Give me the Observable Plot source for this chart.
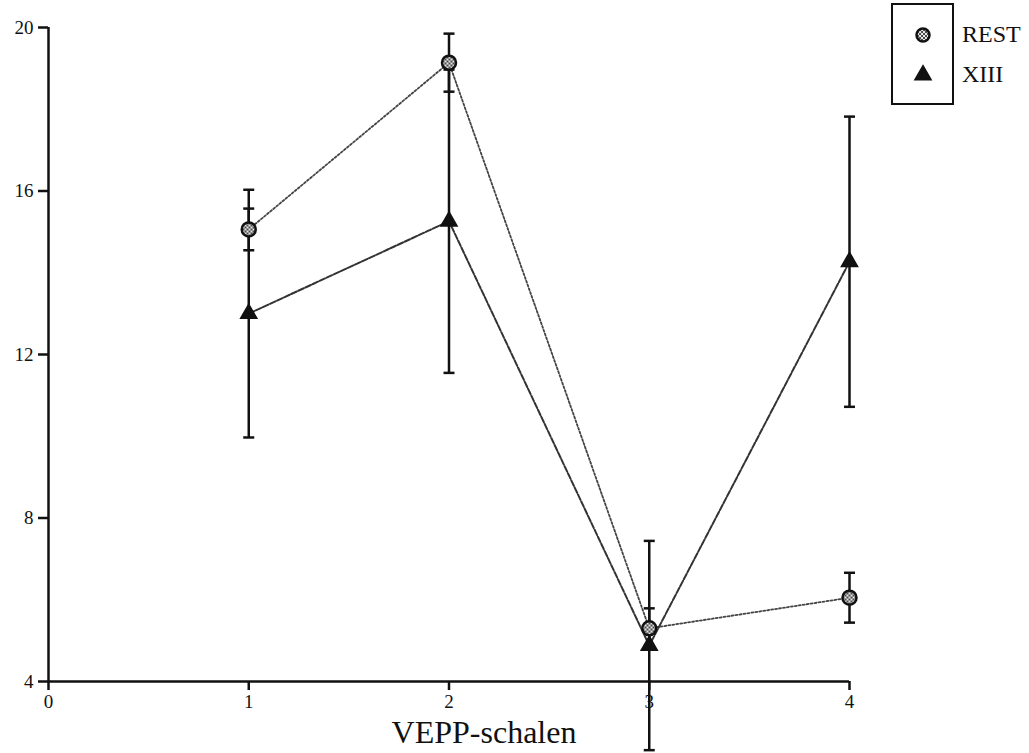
<!DOCTYPE html>
<html>
<head>
<meta charset="utf-8">
<script src="https://cdn.jsdelivr.net/npm/d3@7"></script>
<script src="https://cdn.jsdelivr.net/npm/@observablehq/plot@0.6"></script>
<style>
  body { margin: 0; background: #fff; }
  #wrap { position: relative; width: 1029px; height: 753px; overflow: hidden; background: #fff; }
  #legend { position: absolute; left: 891px; top: 3px; width: 63px; height: 102px; border: 2px solid #111; box-sizing: border-box; }
  .lg-sym { position: absolute; }
  .lg-txt { position: absolute; font-family: "Liberation Serif", serif; font-size: 24px; color: #111; line-height: 1; }
</style>
</head>
<body>
<div id="wrap"></div>
<script>
// ---- data ----
const categories = [1, 2, 3, 4];
const series = ["REST", "XIII"];
const restMean = [15.06, 19.14, 5.30, 6.05];
const restErr  = [0.51, 0.71, 0.49, 0.61];
const xiiiMean = [13.00, 15.26, 4.88, 14.27];
const xiiiErr  = [3.03, 3.71, 2.56, 3.55];
const xTicks = [0, 1, 2, 3, 4];
const yTicks = [4, 8, 12, 16, 20];
const xLabel = "VEPP-schalen";

const rest = categories.map((x, i) => ({x, mean: restMean[i], err: restErr[i], s: series[0]}));
const xiii = categories.map((x, i) => ({x, mean: xiiiMean[i], err: xiiiErr[i], s: series[1]}));

const capSymbol = {
  draw(ctx, size) {
    const w = Math.sqrt(size / Math.PI);
    ctx.moveTo(-w, 0);
    ctx.lineTo(w, 0);
  }
};

const ink = "#111";

function errMarks(data) {
  return [
    Plot.ruleX(data, {x: "x", y1: d => d.mean - d.err, y2: d => d.mean + d.err, stroke: ink, strokeWidth: 2.5}),
    Plot.dot(data, {x: "x", y: d => d.mean + d.err, symbol: capSymbol, r: 5.5, fill: "none", stroke: ink, strokeWidth: 2.5}),
    Plot.dot(data, {x: "x", y: d => d.mean - d.err, symbol: capSymbol, r: 5.5, fill: "none", stroke: ink, strokeWidth: 2.5})
  ];
}

const chart = Plot.plot({
  width: 1029,
  height: 753,
  marginLeft: 48,
  marginRight: 180,
  marginTop: 27,
  marginBottom: 72,
  x: {domain: [0, 4]},
  y: {domain: [4, 20]},
  style: {fontFamily: "Liberation Serif, serif", fontSize: "19px", color: ink, background: "white", overflow: "visible"},
  marks: [
    Plot.axisY({ticks: yTicks, tickSize: 10, tickPadding: 5, label: null, strokeWidth: 2.5, fontSize: 19, tickFormat: d3.format("d")}),
    Plot.axisX({ticks: xTicks, tickSize: 9, tickPadding: 4, label: null, strokeWidth: 2.5, fontSize: 19, tickFormat: d3.format("d")}),
    Plot.ruleY([4], {stroke: ink, strokeWidth: 2.5}),
    Plot.ruleX([0], {stroke: ink, strokeWidth: 2.5}),
    Plot.line(rest, {x: "x", y: "mean", stroke: "#444", strokeWidth: 1.8, strokeDasharray: "2,2"}),
    Plot.line(xiii, {x: "x", y: "mean", stroke: "#333", strokeWidth: 2, strokeDasharray: "6,1.8"}),
    ...errMarks(xiii),
    ...errMarks(rest),
    Plot.dot(xiii, {x: "x", y: "mean", symbol: "triangle", r: 6, fill: ink, stroke: ink, strokeWidth: 1.5}),
    Plot.dot(rest, {x: "x", y: "mean", symbol: "circle", r: 7, fill: "url(#chk)", stroke: ink, strokeWidth: 2.5}),
    Plot.text([xLabel], {text: d => d, frameAnchor: "bottom", dx: 35, dy: 61, lineAnchor: "bottom", fontSize: 32, fontFamily: "Liberation Serif, serif", fill: ink})
  ]
});

// checker pattern for the circle markers
const ns = "http://www.w3.org/2000/svg";
const defs = document.createElementNS(ns, "defs");
defs.innerHTML = '<pattern id="chk" width="4" height="4" patternUnits="userSpaceOnUse">' +
  '<rect width="4" height="4" fill="#4a4a4a"/><rect width="2" height="2" fill="#e6e6e6"/>' +
  '<rect x="2" y="2" width="2" height="2" fill="#e6e6e6"/></pattern>';
chart.insertBefore(defs, chart.firstChild);

const wrap = document.getElementById("wrap");
wrap.appendChild(chart);

// legend
const legend = document.createElement("div");
legend.id = "legend";
wrap.appendChild(legend);
const symSvg = (kind) => {
  const s = document.createElementNS(ns, "svg");
  s.setAttribute("width", 24); s.setAttribute("height", 24);
  s.setAttribute("viewBox", "-12 -12 24 24");
  if (kind === "circle") {
    s.innerHTML = '<defs><pattern id="chk2" width="4" height="4" patternUnits="userSpaceOnUse"><rect width="4" height="4" fill="#4a4a4a"/><rect width="2" height="2" fill="#e6e6e6"/><rect x="2" y="2" width="2" height="2" fill="#e6e6e6"/></pattern></defs>' +
      '<circle r="6.5" fill="url(#chk2)" stroke="#111" stroke-width="2.5"/>';
  } else {
    s.innerHTML = '<path d="' + d3.symbol(d3.symbolTriangle, 36 * Math.PI)() + '" fill="#111" stroke="#111" stroke-width="1.5"/>';
  }
  return s;
};
const rows = [{name: series[0], kind: "circle", cy: 35}, {name: series[1], kind: "triangle", cy: 75}];
for (const r of rows) {
  const sym = symSvg(r.kind);
  sym.classList.add("lg-sym");
  sym.style.left = (923 - 12) + "px";
  sym.style.top = (r.cy - 12) + "px";
  wrap.appendChild(sym);
  const t = document.createElement("div");
  t.className = "lg-txt";
  t.textContent = r.name;
  t.style.left = "962px";
  t.style.top = (r.cy - 13) + "px";
  wrap.appendChild(t);
}
</script>
</body>
</html>
